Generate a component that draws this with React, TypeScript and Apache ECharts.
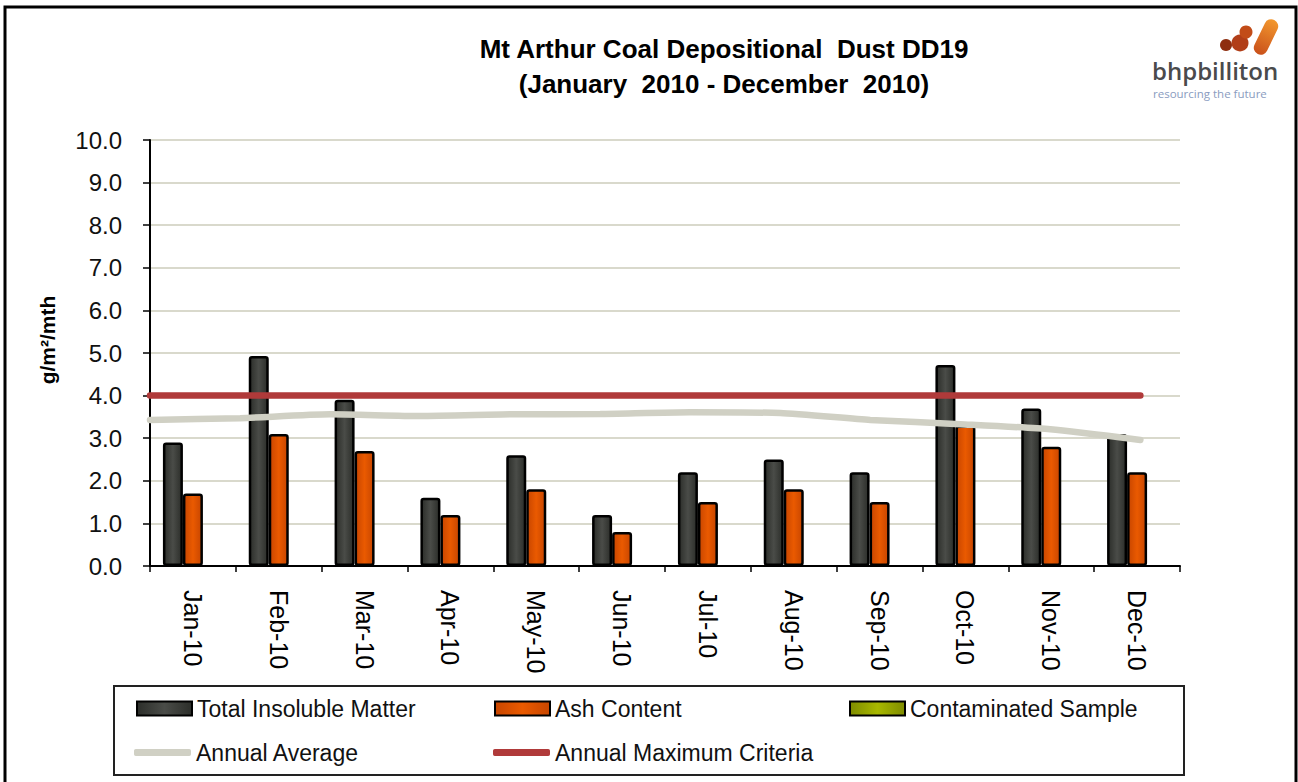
import React, { useEffect, useRef } from 'react';
import * as echarts from 'echarts';

const categories = ['Jan-10', 'Feb-10', 'Mar-10', 'Apr-10', 'May-10', 'Jun-10', 'Jul-10', 'Aug-10', 'Sep-10', 'Oct-10', 'Nov-10', 'Dec-10'];
const totalInsoluble = [2.9, 4.93, 3.9, 1.6, 2.6, 1.2, 2.2, 2.5, 2.2, 4.72, 3.7, 3.1];
const ashContent = [1.7, 3.1, 2.7, 1.2, 1.8, 0.8, 1.5, 1.8, 1.5, 3.3, 2.8, 2.2];
const contaminated: (number | null)[] = [null, null, null, null, null, null, null, null, null, null, null, null];
const annualAverage = [3.43, 3.47, 3.56, 3.52, 3.56, 3.57, 3.61, 3.59, 3.43, 3.33, 3.21, 2.96];
const annualMax = [4.0, 4.0, 4.0, 4.0, 4.0, 4.0, 4.0, 4.0, 4.0, 4.0, 4.0, 4.0];
const yTicks = [0, 1, 2, 3, 4, 5, 6, 7, 8, 9, 10];

const FONT = '"Liberation Sans", Arial, sans-serif';

function hGrad(edge: string, mid: string) {
  return new echarts.graphic.LinearGradient(0, 0, 1, 0, [
    { offset: 0, color: edge },
    { offset: 0.5, color: mid },
    { offset: 1, color: edge },
  ]);
}

export default function App() {
  const ref = useRef<HTMLDivElement>(null);
  useEffect(() => {
    const chart = echarts.init(ref.current!, null, { renderer: 'svg' });
    const legendCommon = {
      padding: 0,
      itemWidth: 55,
      itemHeight: 14,
      selectedMode: false,
      textStyle: { fontSize: 23, color: '#111', fontFamily: FONT },
    };
    const lineLegend = { ...legendCommon, itemWidth: 57, itemHeight: 7 };
    const option: any = {
      animation: false,
      backgroundColor: '#ffffff',
      grid: { left: 150, right: 118, top: 140, bottom: 216, containLabel: false },
      xAxis: [
        {
          type: 'category',
          data: categories,
          boundaryGap: true,
          axisLine: { lineStyle: { color: '#000', width: 2 } },
          axisTick: { show: true, length: 6, lineStyle: { color: '#000', width: 1.5 } },
          axisLabel: { rotate: -90, margin: 24, fontSize: 25, color: '#000', fontFamily: FONT },
          splitLine: { show: false },
        },
        {
          type: 'value',
          min: 0,
          max: 11.44,
          show: false,
        },
      ],
      yAxis: {
        type: 'value',
        min: yTicks[0],
        max: yTicks[yTicks.length - 1],
        interval: 1,
        axisLine: { show: true, lineStyle: { color: '#000', width: 2 } },
        axisTick: { show: true, length: 7, lineStyle: { color: '#000', width: 1.5 } },
        axisLabel: { margin: 28, fontSize: 24, color: '#111', fontFamily: FONT, formatter: (v: number) => v.toFixed(1) },
        splitLine: { show: true, lineStyle: { color: '#d9d9cc', width: 2 } },
      },
      legend: [
        { ...legendCommon, data: [{ name: 'Total Insoluble Matter', icon: 'rect' }], left: 136, top: 697 },
        { ...legendCommon, data: [{ name: 'Ash Content', icon: 'rect' }], left: 494, top: 697 },
        { ...legendCommon, data: [{ name: 'Contaminated Sample', icon: 'rect' }], left: 849, top: 697 },
        { ...lineLegend, data: [{ name: 'Annual Average', icon: 'roundRect', itemStyle: { color: '#d0d0c4' } }], left: 134, top: 741 },
        { ...lineLegend, data: [{ name: 'Annual Maximum Criteria', icon: 'roundRect', itemStyle: { color: '#b03a3a' } }], left: 493, top: 741 },
      ],
      series: [
        {
          name: 'Total Insoluble Matter',
          type: 'bar',
          data: totalInsoluble,
          barWidth: 20,
          barGap: '0%',
          itemStyle: { color: hGrad('#2c2e2a', '#4a4c48'), borderColor: '#000', borderWidth: 2.5, borderRadius: 2 },
        },
        {
          name: 'Ash Content',
          type: 'bar',
          data: ashContent,
          barWidth: 20,
          barGap: '0%',
          itemStyle: { color: hGrad('#c84600', '#ea5a00'), borderColor: '#000', borderWidth: 2.5, borderRadius: 2 },
        },
        {
          name: 'Contaminated Sample',
          type: 'bar',
          data: contaminated,
          barWidth: 20,
          barGap: '0%',
          itemStyle: { color: hGrad('#7f8c00', '#a8b800'), borderColor: '#000', borderWidth: 2.5, borderRadius: 2 },
        },
        {
          name: 'Annual Average',
          type: 'line',
          xAxisIndex: 1,
          data: annualAverage.map((v, i) => [i, v]),
          symbol: 'none',
          smooth: 0.2,
          color: '#d0d0c4',
          itemStyle: { color: '#d0d0c4' },
          lineStyle: { color: '#d0d0c4', width: 6.5, cap: 'round' },
          z: 5,
        },
        {
          name: 'Annual Maximum Criteria',
          type: 'line',
          xAxisIndex: 1,
          data: annualMax.map((v, i) => [i, v]),
          symbol: 'none',
          color: '#b03a3a',
          itemStyle: { color: '#b03a3a' },
          lineStyle: { color: '#b03a3a', width: 6.5, cap: 'round' },
          z: 6,
        },
      ],
      graphic: [
        {
          type: 'rect',
          silent: true,
          shape: { x: 5, y: 7, width: 1291, height: 800 },
          style: { fill: 'none', stroke: '#000', lineWidth: 3 },
        },
        {
          type: 'rect',
          silent: true,
          shape: { x: 114, y: 686, width: 1070, height: 89 },
          style: { fill: 'none', stroke: '#222', lineWidth: 2 },
        },
        {
          type: 'text',
          x: 724,
          y: 49,
          style: {
            text: 'Mt Arthur Coal Depositional  Dust DD19',
            textAlign: 'center', textVerticalAlign: 'middle', align: 'center', verticalAlign: 'middle',
            fontSize: 26, fontWeight: 'bold', fontFamily: FONT, fill: '#000',
          },
        },
        {
          type: 'text',
          x: 724,
          y: 84,
          style: {
            text: '(January  2010 - December  2010)',
            textAlign: 'center', textVerticalAlign: 'middle', align: 'center', verticalAlign: 'middle',
            fontSize: 26, fontWeight: 'bold', fontFamily: FONT, fill: '#000',
          },
        },
        {
          type: 'text',
          x: 47,
          y: 340,
          rotation: Math.PI / 2,
          style: {
            text: 'g/m²/mth',
            textAlign: 'center', textVerticalAlign: 'middle', align: 'center', verticalAlign: 'middle',
            fontSize: 21, fontWeight: 'bold', fontFamily: FONT, fill: '#000',
          },
        },
        {
          type: 'text',
          x: 1152,
          y: 70,
          style: {
            text: 'bhpbilliton',
            textAlign: 'left', textVerticalAlign: 'middle', align: 'left', verticalAlign: 'middle',
            fontSize: 24, fontWeight: 600, fontFamily: '"Open Sans", sans-serif', fill: '#4a4a4c',
          },
        },
        {
          type: 'text',
          x: 1153,
          y: 93,
          style: {
            text: 'resourcing the future',
            textAlign: 'left', textVerticalAlign: 'middle', align: 'left', verticalAlign: 'middle',
            fontSize: 11.5, fontFamily: '"Open Sans", sans-serif', fill: '#8a9cc0',
          },
        },
        {
          type: 'circle',
          shape: { cx: 1226, cy: 45, r: 6 },
          style: { fill: '#8e2e10' },
        },
        {
          type: 'circle',
          shape: { cx: 1240, cy: 43, r: 8.5 },
          style: { fill: '#b13e18' },
        },
        {
          type: 'circle',
          shape: { cx: 1246, cy: 32, r: 6.5 },
          style: { fill: '#c24c18' },
        },
        {
          type: 'rect',
          x: 1266,
          y: 37,
          rotation: -0.45,
          shape: { x: -7, y: -19, width: 14, height: 38, r: 7 },
          style: {
            fill: new echarts.graphic.LinearGradient(0, 1, 0, 0, [
              { offset: 0, color: '#c9501a' },
              { offset: 1, color: '#f3982e' },
            ]),
          },
        },
      ],
    };
    chart.setOption(option);
    return () => chart.dispose();
  }, []);
  return (
    <div
      ref={ref}
      style={{ position: 'fixed', left: 0, top: 0, width: 1298, height: 782, background: '#fff' }}
    />
  );
}
